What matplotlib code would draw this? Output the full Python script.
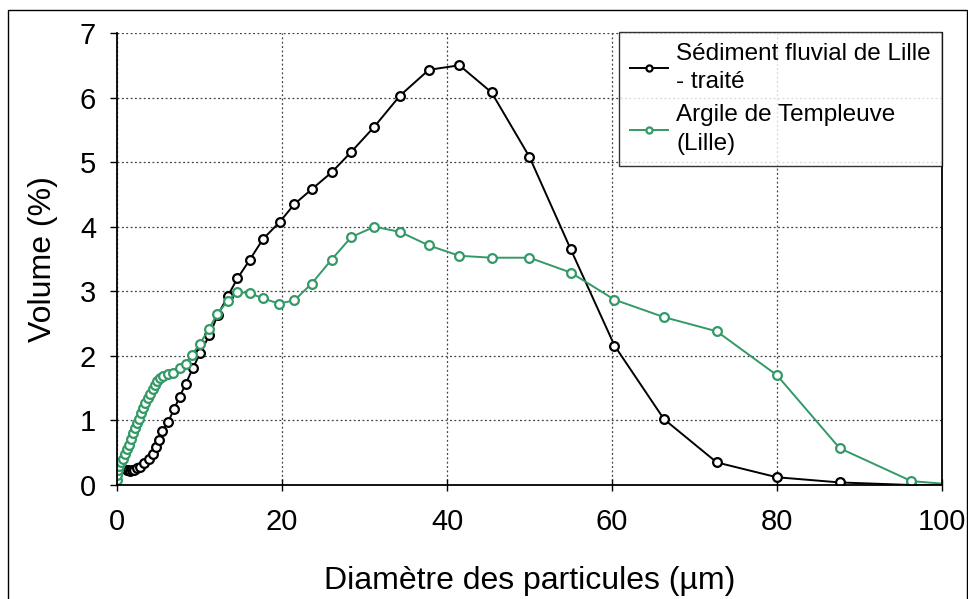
import matplotlib.pyplot as plt
from matplotlib.patches import Rectangle

plt.rcParams['font.family'] = ['Liberation Sans', 'DejaVu Sans']

# Sédiment fluvial de Lille - traité
x_sed = [1.2, 1.37, 1.55, 1.78, 2.0, 2.39, 2.79, 3.27, 3.87, 4.3, 4.7, 5.1, 5.5,
         6.2, 6.9, 7.6, 8.3, 9.2, 10.1, 11.2, 12.2, 13.4, 14.6, 16.1, 17.7,
         19.7, 21.5, 23.6, 26.0, 28.4, 31.2, 34.3, 37.8, 41.5, 45.4, 50.0,
         55.0, 60.3, 66.3, 72.7, 80.0, 87.6, 96.3, 105.0]
y_sed = [0.24, 0.23, 0.22, 0.23, 0.23, 0.26, 0.28, 0.34, 0.40, 0.48, 0.59, 0.70, 0.83,
         0.98, 1.17, 1.37, 1.56, 1.81, 2.05, 2.32, 2.63, 2.92, 3.20, 3.49, 3.81,
         4.07, 4.35, 4.58, 4.84, 5.16, 5.55, 6.03, 6.43, 6.50, 6.08, 5.08,
         3.65, 2.16, 1.02, 0.35, 0.12, 0.04, 0.0, 0.0]

# Argile de Templeuve (Lille)
x_arg = [0.0, 0.04, 0.16, 0.28, 0.45, 0.69, 0.97, 1.25, 1.49, 1.66, 1.9, 2.14,
         2.38, 2.62, 2.86, 3.1, 3.43, 3.76, 4.0, 4.3, 4.6, 4.87, 5.2, 5.6, 6.2,
         6.8, 7.6, 8.3, 9.05, 10.05, 11.1, 12.15, 13.4, 14.6, 16.1, 17.7, 19.6,
         21.5, 23.6, 26.0, 28.4, 31.2, 34.3, 37.8, 41.5, 45.4, 50.0, 55.0,
         60.3, 66.3, 72.7, 80.0, 87.6, 96.3, 105.0]
y_arg = [0.08, 0.15, 0.23, 0.29, 0.36, 0.41, 0.48, 0.55, 0.62, 0.71, 0.80, 0.88,
         0.96, 1.03, 1.11, 1.19, 1.27, 1.34, 1.41, 1.48, 1.55, 1.61, 1.66, 1.69, 1.72,
         1.74, 1.81, 1.88, 2.01, 2.19, 2.41, 2.65, 2.85, 2.99, 2.97, 2.89, 2.81,
         2.86, 3.12, 3.49, 3.84, 4.00, 3.92, 3.71, 3.55, 3.52, 3.52, 3.29,
         2.87, 2.60, 2.38, 1.70, 0.57, 0.06, -0.03]

green = '#339966'

fig = plt.figure(figsize=(9.68, 5.99), dpi=100)
ax = fig.add_axes([0.1209, 0.1903, 0.8522, 0.7546])

ax.plot(x_sed, y_sed, color='black', lw=1.4, marker='o', ms=6.3,
        mfc='white', mec='black', mew=1.6,
        label='Sédiment fluvial de Lille\n- traité')
ax.plot(x_arg, y_arg, color=green, lw=1.4, marker='o', ms=6.3,
        mfc='white', mec=green, mew=1.6,
        label='Argile de Templeuve\n(Lille)')

ax.set_xlim(0, 100)
ax.set_ylim(0, 7)
ax.set_xticks(range(0, 101, 20))
ax.set_yticks(range(0, 8))
ax.grid(True, color='#404040', linestyle=(0, (1.5, 2)), linewidth=0.9)
ax.set_axisbelow(True)

ax.spines['top'].set_visible(False)
for s in ['left', 'bottom', 'right']:
    ax.spines[s].set_linewidth(1.3)
ax.tick_params(axis='both', length=5, width=1.0, labelsize=21)
ax.tick_params(axis='x', direction='inout', length=9, pad=12)
ax.tick_params(axis='y', direction='out', pad=10)

ax.set_xlabel('Diamètre des particules (µm)', fontsize=23, labelpad=22)
ax.set_ylabel('Volume (%)', fontsize=23, labelpad=16)

leg = ax.legend(loc='upper right', bbox_to_anchor=(1.0, 1.003), fontsize=17.5,
                frameon=True, fancybox=False, edgecolor='black',
                handlelength=1.55, handletextpad=0.35, borderpad=0.45,
                labelspacing=0.45, borderaxespad=0.0, markerscale=0.7)
leg.get_frame().set_linewidth(1.0)
for t in leg.get_texts():
    t.set_linespacing(1.4)

fig.patches.append(Rectangle((8 / 968, -0.02), 959 / 968, 1.02 - 10 / 599,
                             transform=fig.transFigure, fill=False,
                             edgecolor='black', linewidth=1.0))

fig.savefig('out.png', dpi=100)
